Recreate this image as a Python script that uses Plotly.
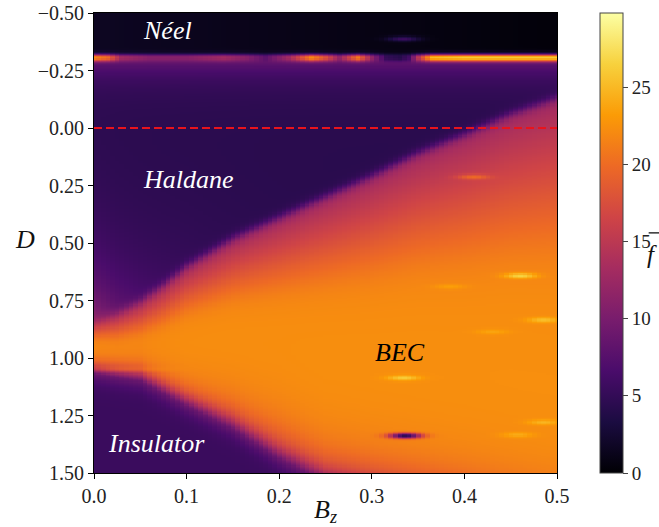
import numpy as np
import plotly.graph_objects as go

# ---------------- data ----------------
# Haldane -> BEC boundary (D value at given Bz)
bz_nodes = [0.0, 0.025, 0.05, 0.075, 0.10, 0.15, 0.20, 0.25, 0.30, 0.35, 0.40, 0.45, 0.50]
d_upper = [0.83, 0.80, 0.75, 0.68, 0.60, 0.48, 0.39, 0.30, 0.21, 0.11, 0.03, -0.06, -0.13]
# BEC -> Insulator boundary (continued below the frame on the right)
bz_low = [0.0, 0.05, 0.10, 0.15, 0.20, 0.25, 0.30, 0.40, 0.50]
d_lower = [1.07, 1.10, 1.21, 1.31, 1.44, 1.54, 1.58, 1.65, 1.73]
# reach of the reddish fringe above the insulator boundary
fringe_bz = [0.0, 0.10, 0.20, 0.30, 0.50]
fringe_reach = [0.03, 0.06, 0.10, 0.10, 0.10]
# Néel / Haldane bright band (peak value along Bz)
band_D = -0.305
band_bz = [0.0, 0.015, 0.03, 0.06, 0.10, 0.14, 0.165, 0.185, 0.21, 0.235, 0.25,
           0.265, 0.285, 0.30, 0.315, 0.33, 0.34, 0.35, 0.365, 0.40, 0.50]
band_peak = [22, 20, 13, 11, 11, 13, 11, 8, 13, 22, 18,
             12, 21, 12, 5, 4, 6, 15, 25, 26, 26]
# phase levels
level_haldane = 4.3
level_insulator = 5.5
level_bec = 22.5
level_neel_left = 1.6
# localized spots: Bz, D, change in f
spot_bz = [0.334, 0.409, 0.46, 0.384, 0.485, 0.43, 0.334, 0.336, 0.457, 0.485, 0.025]
spot_D = [-0.387, 0.213, 0.643, 0.69, 0.835, 0.887, 1.087, 1.339, 1.335, 1.28, 1.05]
spot_df = [5, 4, 5, 1.5, 3, 1.5, 4, -17, 2, 2.5, 2]

ref_line_D = 0.0
x_ticks = [0.0, 0.1, 0.2, 0.3, 0.4, 0.5]
y_ticks = [-0.5, -0.25, 0.0, 0.25, 0.5, 0.75, 1.0, 1.25, 1.5]
cb_ticks = [0, 5, 10, 15, 20, 25]
labels = [("<i>Néel</i>", 0.079, -0.426, "white"),
          ("<i>Haldane</i>", 0.102, 0.226, "white"),
          ("<i>BEC</i>", 0.330, 0.974, "black"),
          ("<i>Insulator</i>", 0.0675, 1.370, "white")]

# ---------------- build grid ----------------
bz = np.round(np.arange(0, 0.50001, 0.005), 4)
dd = np.round(np.arange(-0.5, 1.50001, 0.005), 4)
X, Y = np.meshgrid(bz, dd)


def sig(t):
    return 1.0 / (1.0 + np.exp(-t))


Dup = np.interp(X, bz_nodes, d_upper)
Dlo = np.interp(X, bz_low, d_lower)

d1 = np.clip(Y - Dup, 0, None)
L = 0.10 + 1.25 * X
t = d1 / L
ramp = (t + 1 - np.sqrt((t - 1) ** 2 + 0.04)) / 2 + 0.1
ramp = np.clip(ramp / 1.1, 0, 1)
bec = 12.0 + (level_bec - 12.0) * ramp
d2 = np.clip(Dlo - Y, 0, None)
mu = np.interp(X, fringe_bz, fringe_reach)
bec = bec - 10 * np.exp(-d2 / mu)

hal = (level_haldane
       + 5 * np.exp(-np.clip(Y + 0.30, 0, None) / 0.07)
       + 7 * np.exp(-np.clip(Dup - Y, 0, None) / 0.25) * np.exp(-X / 0.05))

neel = np.clip(level_neel_left - 2.6 * X, 0.3, None)

s_up = sig((Y - Dup) / 0.012)
s_lo = sig((Dlo - Y) / 0.025)
s_neel = sig((-0.31 - Y) / 0.006)

mid = hal * (1 - s_up) + bec * s_up
Z = mid * s_lo + level_insulator * (1 - s_lo)
Z = Z * (1 - s_neel) + neel * s_neel

g = np.exp(-0.5 * ((Y - band_D) / 0.011) ** 2)
peak = np.interp(X, band_bz, band_peak)
Z = Z * (1 - g) + peak * g

for bx, by, df in zip(spot_bz, spot_D, spot_df):
    sx = 0.03 if bx < 0.05 else 0.012
    Z = Z + df * np.exp(-0.5 * (((X - bx) / sx) ** 2 + ((Y - by) / 0.008) ** 2))

Z = np.round(np.clip(Z, 0, 29.8), 2)

# ---------------- figure ----------------
FONT = "Liberation Serif"
fig = go.Figure()
fig.add_trace(go.Heatmap(
    x=bz, y=dd, z=Z, colorscale="Inferno", zmin=0, zmax=29.8,
    colorbar=dict(
        x=1.093, xanchor="left", y=0.5, yanchor="middle", len=1.0,
        xpad=0, ypad=0,
        thickness=23, outlinewidth=1, outlinecolor="#444",
        tickvals=cb_ticks, ticks="outside", ticklen=5,
        tickfont=dict(family=FONT, size=19, color="#222"),
    ),
))
fig.add_trace(go.Scatter(
    x=[x_ticks[0], x_ticks[-1]], y=[ref_line_D, ref_line_D], mode="lines",
    line=dict(color="#e8141c", width=1.8, dash="8px,4px"),
    hoverinfo="skip", showlegend=False,
))
for txt, lx, ly, col in labels:
    fig.add_annotation(x=lx, y=ly, text=txt, showarrow=False,
                       xanchor="center", yanchor="middle",
                       font=dict(family=FONT, size=26, color=col))
# colorbar label: f with an overbar
fig.add_annotation(xref="paper", yref="paper", x=1.206, y=0.476,
                   text="<i>f</i>", showarrow=False,
                   xanchor="center", yanchor="middle",
                   font=dict(family=FONT, size=25, color="#111"))
fig.add_shape(type="line", xref="paper", yref="paper",
              x0=1.198, x1=1.221, y0=0.522, y1=0.522,
              line=dict(color="#111", width=1.3))
# y-axis title
fig.add_annotation(xref="paper", yref="paper", x=-0.149, y=0.507,
                   text="<i>D</i>", showarrow=False,
                   xanchor="center", yanchor="middle",
                   font=dict(family=FONT, size=26, color="#111"))

fig.update_xaxes(range=[0, 0.5], tickvals=x_ticks, tickformat=".1f",
                 ticks="outside", ticklen=5, tickcolor="black",
                 showline=True, linecolor="black", linewidth=1, mirror=True,
                 showgrid=False, zeroline=False,
                 tickfont=dict(family=FONT, size=20, color="#222"),
                 title=dict(text="<i>B</i><sub><i>z</i></sub>",
                            font=dict(family=FONT, size=26, color="#111"),
                            standoff=4))
fig.update_yaxes(range=[1.5, -0.5], tickvals=y_ticks, tickformat=".2f",
                 ticks="outside", ticklen=5, tickcolor="black",
                 showline=True, linecolor="black", linewidth=1, mirror=True,
                 showgrid=False, zeroline=False,
                 tickfont=dict(family=FONT, size=20, color="#222"))
fig.update_layout(width=659, height=527,
                  margin=dict(l=94, r=102, t=13, b=54, autoexpand=False),
                  paper_bgcolor="white", plot_bgcolor="white",
                  showlegend=False)
fig.write_html("out.html")
